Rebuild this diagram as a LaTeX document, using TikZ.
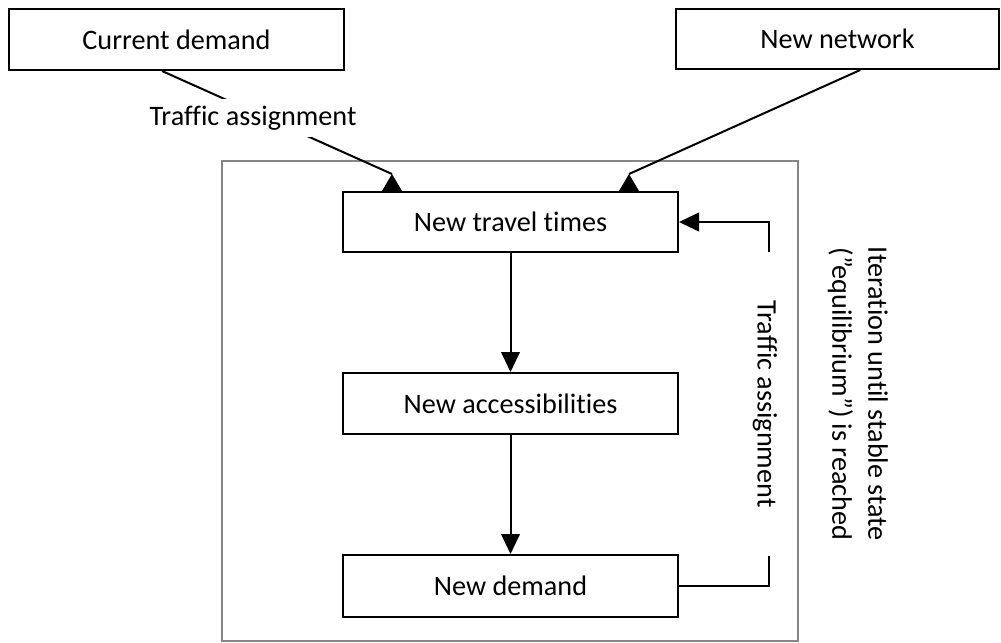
\documentclass[tikz,border=0pt]{standalone}
\usepackage{fontspec}
\setmainfont{Carlito}[Ligatures={NoCommon,NoContextual}]
\usetikzlibrary{arrows.meta,calc}
\definecolor{framegray}{RGB}{134,134,134}
\newcommand\figfont{\fontsize{21.15pt}{27pt}\selectfont}
\begin{document}
\begin{tikzpicture}[x=0.75pt,y=-0.75pt,
  box/.style={draw,line width=1.5pt,rectangle,inner sep=0pt,font=\figfont},
  conn/.style={line width=1.5pt},
  arr/.style={line width=1.5pt,-{Triangle[length=15pt,width=14pt]}},
  lbl/.style={font=\figfont,inner sep=0pt},
  tipfill/.style={fill=black}
]
\useasboundingbox (0,0) rectangle (1001,643);
\draw[framegray,line width=1.5pt] (222,161) rectangle (798,641);

\node[box,minimum width=251.25pt,minimum height=45.75pt] (cd) at (176.5,39.5) {Current demand};
\node[box,minimum width=242.25pt,minimum height=45pt] (nn) at (837.5,39) {New network};
\node[box,minimum width=251.25pt,minimum height=45pt] (ntt) at (510.5,222) {New travel times};
\node[box,minimum width=251.25pt,minimum height=45.75pt] (nacc) at (510.5,403.5) {New accessibilities};
\node[box,minimum width=251.25pt,minimum height=46.5pt] (nd) at (510.5,586) {New demand};

% incoming connectors
\coordinate (s1) at ($(cd.south west)!0.457!(cd.south east)$);
\coordinate (t1) at ($(ntt.north west)+(50,-17)$);
\draw[conn] (s1) -- (t1);
\fill[tipfill] (t1) -- ++(-10,17) -- ++(20,0) -- cycle;
\node[lbl,fill=white,inner xsep=3pt,inner ysep=5pt] (ta1) at (253,118) {Traffic assignment};

\coordinate (s2) at ($(nn.south west)!0.57!(nn.south east)$);
\coordinate (t2) at ($(ntt.north west)+(287,-17)$);
\draw[conn] (s2) -- (t2);
\fill[tipfill] (t2) -- ++(-10,17) -- ++(20,0) -- cycle;

% vertical flow
\draw[arr] (ntt) -- (nacc);
\draw[arr] (nacc) -- (nd);

% feedback loop
\coordinate (fb1) at ($(nd.east)+(90,-30)$);
\coordinate (fb2) at ($(ntt.east)+(90,30)$);
\draw[conn] (nd.east) -| (fb1);
\draw[arr] (fb2) |- (ntt.east);

\node[lbl,rotate=-90] (ta2) at (765,404) {Traffic assignment};
\node[lbl,rotate=-90,align=center] (iter) at (858,394) {Iteration until stable state\\(”equilibrium”) is reached};
\end{tikzpicture}
\end{document}
